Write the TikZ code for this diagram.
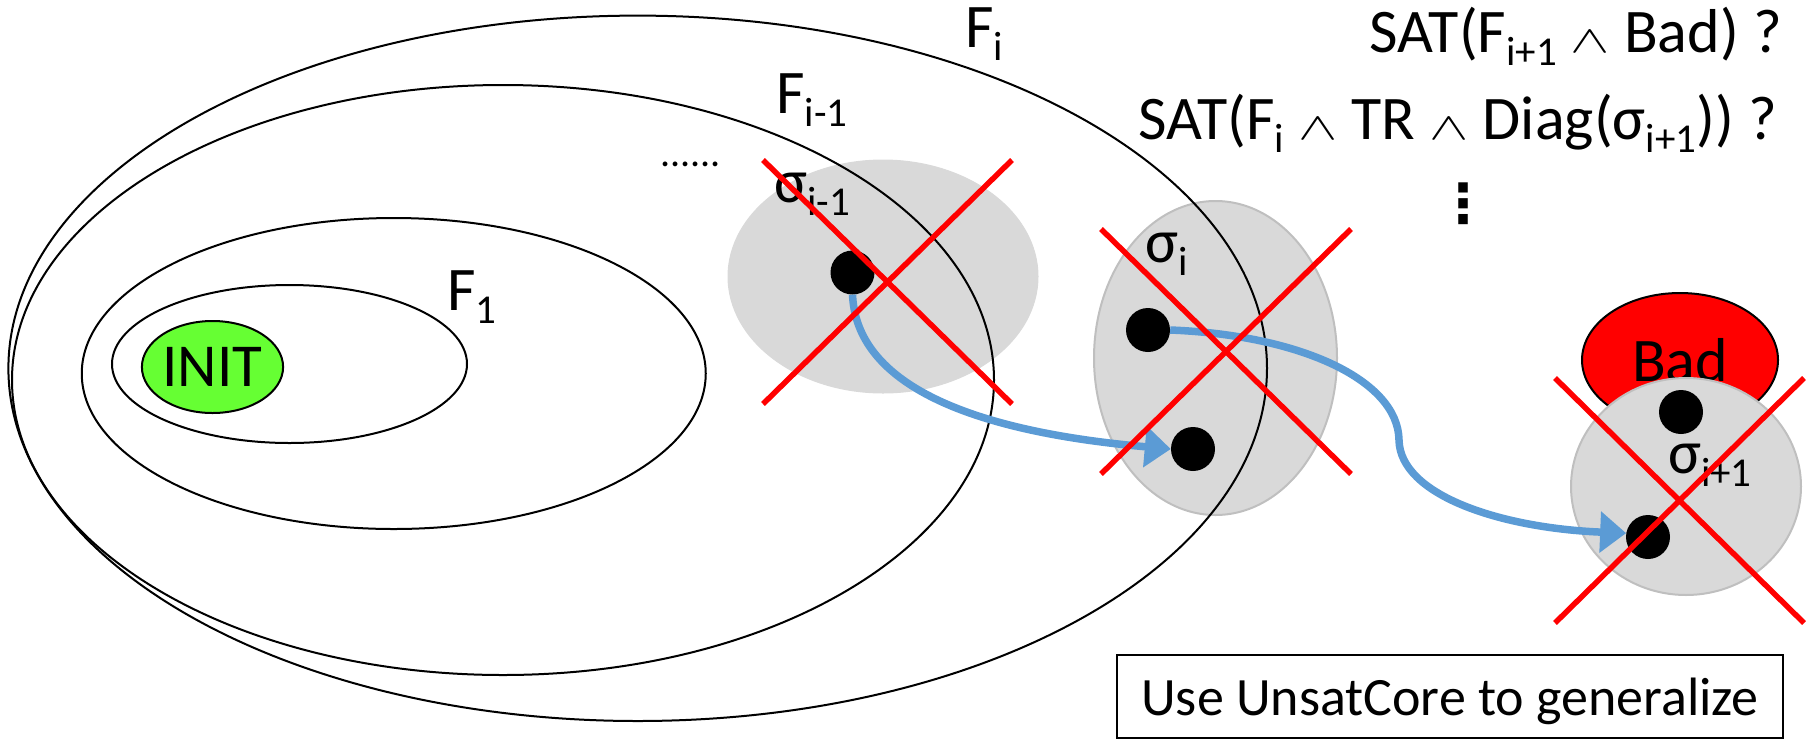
\documentclass[tikz,border=0pt]{standalone}
\usepackage{fontspec}
\usepackage{graphicx}
\setmainfont{Carlito}
\newfontfamily\dejavu{DejaVu Sans Bold}
\DeclareFontShape{OMS}{cmsy}{m}{n}{<->cmsy10}{}
\usetikzlibrary{arrows.meta,shapes.geometric}
\definecolor{initgreen}{HTML}{66FF33}
\definecolor{badred}{HTML}{FF0000}
\definecolor{stgray}{HTML}{D9D9D9}
\definecolor{stborder}{HTML}{BFBFBF}
\definecolor{arrblue}{HTML}{5B9BD5}
\newcommand\dn[1]{\raisebox{-13pt}{\fontsize{41}{41}\selectfont #1}}
\newcommand\W{\scalebox{0.95}[0.62]{$\wedge$}}
\begin{document}
\begin{tikzpicture}[x=1pt,y=-1pt,
  frame/.style={draw=black,line width=2pt},
  stateA/.style={fill=stgray,draw=stgray,line width=1pt},
  stateB/.style={fill=stgray,draw=stborder,line width=2pt},
  dot/.style={circle,fill=black,minimum size=44pt,inner sep=0pt},
  cross/.style={draw=badred,line width=5.5pt},
  trans/.style={draw=arrblue,line width=7.5pt,-{Triangle[length=26pt,width=40pt]}},
  lbl/.style={font=\fontsize{62}{70}\selectfont,inner sep=0pt,anchor=base west},
]
\useasboundingbox (0,0) rectangle (1816,740);
% gray state sets under the frame outlines
\draw[stateA] (883,276.5) ellipse [x radius=155, y radius=116.5];
\draw[stateB] (1215.5,358) ellipse [x radius=121.5, y radius=157];
% frames
\draw[frame] (637.7,368.3) ellipse [x radius=629.3, y radius=352.7];
\draw[frame] (503,380) ellipse [x radius=491, y radius=295];
\draw[frame] (393.75,373.5) ellipse [x radius=312, y radius=155.5];
\draw[frame] (289.5,364) ellipse [x radius=177.5, y radius=79];
\node[ellipse,draw=black,line width=2pt,fill=initgreen,minimum width=131pt,minimum height=92pt,inner sep=0pt,font=\fontsize{61}{61}\selectfont] (init) at (212.5,367) {INIT};
% Bad and sigma_{i+1}
\node[ellipse,draw=black,line width=2pt,fill=badred,minimum width=196pt,minimum height=134pt,inner sep=0pt,font=\fontsize{62}{62}\selectfont] (bad) at (1680,360) {Bad};
\draw[stateB] (1686,486.5) ellipse [x radius=115, y radius=108.5];
% labels
\node[lbl] (lFi) at (965,47) {F\dn{i}};
\node[lbl] (lFim) at (776,113) {F\dn{i-1}};
\node[lbl] (lF1) at (447,310) {F\dn{1}};
\node[anchor=base west,inner sep=0pt,font=\fontsize{40}{40}\selectfont] (ddots) at (660,166) {......};
\node[lbl] (ls1) at (774,202) {σ\dn{i-1}};
\node[lbl] (ls2) at (1145,262) {σ\dn{i}};
\node[lbl] (ls3) at (1668,473) {σ\dn{i+1}};
\node[lbl,anchor=base east] (q1) at (1782,52) {SAT(F\dn{i+1} \W{} Bad) ?};
\node[lbl,anchor=base east] (q2) at (1777,139) {SAT(F\dn{i} \W{} TR \W{} Diag(σ\dn{i+1})) ?};
\node[inner sep=0pt,font=\dejavu\fontsize{54}{54}\selectfont] (vd) at (1463,204) {⋮};
\node[draw=black,line width=2pt,minimum width=666pt,minimum height=83pt,inner sep=0pt,text depth=0pt,font=\fontsize{54}{60}\selectfont] (box) at (1450,696.5) {Use UnsatCore to generalize};
% states
\node[dot] (d1) at (852.5,272.5) {};
\node[dot] (d2) at (1193,449) {};
\node[dot] (d3) at (1148,330) {};
\node[dot] (d4) at (1681,412) {};
\node[dot] (d5) at (1648,537) {};
% transitions
\draw[trans] (d1.south) .. controls (855,350) and (900,425) .. (d2.west);
\draw[trans] (d3.east) .. controls (1300,335) and (1398,380) .. (1399,440)
  .. controls (1400,495) and (1500,528) .. (d5.170);
% crosses
\draw[cross] (763,160) -- (1012,404) (1012,160) -- (763,404);
\draw[cross] (1101,229) -- (1351,474) (1351,229) -- (1101,474);
\draw[cross] (1555,378) -- (1804,623) (1804,378) -- (1555,623);
\end{tikzpicture}
\end{document}
